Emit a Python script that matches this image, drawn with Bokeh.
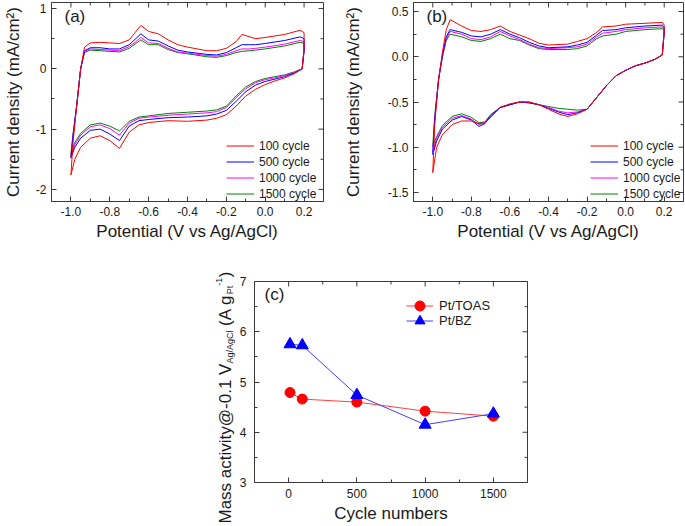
import math
from bokeh.plotting import figure
from bokeh.models import FixedTicker, Label, Legend, LegendItem
from bokeh.layouts import row, column
from bokeh.embed import file_html
from bokeh.resources import INLINE

# ---------------- panel (a) data ----------------
a_up_pot = [-1.0, -0.99, -0.97, -0.95, -0.93, -0.9, -0.85, -0.8, -0.75, -0.7, -0.67, -0.64, -0.6, -0.55,
            -0.5, -0.45, -0.4, -0.3, -0.25, -0.2, -0.15, -0.12, -0.08, -0.05, 0.0, 0.1, 0.18, 0.2]
a_up_100 = [-1.76, -1.25, -0.6, 0.0, 0.36, 0.43, 0.44, 0.43, 0.42, 0.48, 0.60, 0.72, 0.62, 0.58,
            0.48, 0.40, 0.36, 0.30, 0.30, 0.34, 0.45, 0.57, 0.53, 0.50, 0.52, 0.57, 0.64, 0.60]
a_up_500 = [-1.48, -1.15, -0.6, 0.0, 0.30, 0.35, 0.35, 0.33, 0.33, 0.40, 0.49, 0.58, 0.48, 0.46,
            0.38, 0.31, 0.28, 0.24, 0.23, 0.27, 0.35, 0.40, 0.40, 0.40, 0.42, 0.47, 0.53, 0.50]
a_up_1000 = [-1.45, -1.12, -0.6, 0.0, 0.29, 0.33, 0.32, 0.31, 0.30, 0.37, 0.44, 0.52, 0.43, 0.42,
             0.34, 0.28, 0.26, 0.22, 0.21, 0.24, 0.30, 0.33, 0.33, 0.34, 0.36, 0.41, 0.47, 0.45]
a_up_1500 = [-1.42, -1.10, -0.6, 0.0, 0.27, 0.31, 0.30, 0.29, 0.28, 0.34, 0.41, 0.48, 0.40, 0.40,
             0.32, 0.27, 0.25, 0.20, 0.19, 0.22, 0.27, 0.29, 0.30, 0.31, 0.33, 0.38, 0.44, 0.42]

a_dn_pot = [0.2, 0.19, 0.15, 0.1, 0.05, 0.0, -0.05, -0.1, -0.15, -0.2, -0.25, -0.3,
            -0.4, -0.5, -0.6, -0.65, -0.7, -0.75, -0.8, -0.85, -0.9, -0.95, -0.98, -1.0]
a_dn_100 = [0.35, 0.0, -0.08, -0.15, -0.20, -0.26, -0.34, -0.45, -0.62, -0.76, -0.82, -0.85,
            -0.87, -0.86, -0.89, -0.93, -1.05, -1.32, -1.19, -1.11, -1.15, -1.30, -1.50, -1.76]
a_dn_500 = [0.3, 0.0, -0.07, -0.13, -0.17, -0.21, -0.27, -0.38, -0.54, -0.69, -0.75, -0.78,
            -0.80, -0.81, -0.84, -0.86, -0.95, -1.19, -1.08, -1.00, -1.02, -1.15, -1.30, -1.48]
a_dn_1000 = [0.3, 0.0, -0.06, -0.11, -0.15, -0.18, -0.23, -0.33, -0.48, -0.64, -0.71, -0.73,
             -0.75, -0.77, -0.80, -0.82, -0.90, -1.10, -0.99, -0.93, -0.96, -1.10, -1.26, -1.45]
a_dn_1500 = [0.3, 0.0, -0.05, -0.10, -0.13, -0.16, -0.21, -0.30, -0.45, -0.62, -0.68, -0.70,
             -0.72, -0.74, -0.78, -0.80, -0.87, -1.03, -0.95, -0.90, -0.93, -1.07, -1.22, -1.42]

# ---------------- panel (b) data ----------------
b_up_pot = [-1.0, -0.99, -0.97, -0.95, -0.93, -0.91, -0.85, -0.8, -0.75, -0.7, -0.65, -0.6, -0.55,
            -0.5, -0.45, -0.4, -0.3, -0.25, -0.2, -0.15, -0.12, -0.05, 0.0, 0.1, 0.19, 0.2]
b_up_100 = [-1.28, -0.75, -0.25, 0.05, 0.30, 0.41, 0.34, 0.29, 0.28, 0.30, 0.34, 0.28, 0.24,
            0.20, 0.15, 0.13, 0.14, 0.17, 0.20, 0.27, 0.33, 0.34, 0.36, 0.37, 0.38, 0.35]
b_up_500 = [-1.08, -0.70, -0.25, 0.02, 0.22, 0.30, 0.27, 0.23, 0.22, 0.25, 0.30, 0.25, 0.21,
            0.16, 0.12, 0.10, 0.11, 0.13, 0.16, 0.24, 0.29, 0.30, 0.32, 0.34, 0.35, 0.32]
b_up_1000 = [-1.05, -0.68, -0.25, 0.0, 0.20, 0.28, 0.25, 0.20, 0.19, 0.22, 0.28, 0.23, 0.19,
             0.14, 0.10, 0.09, 0.10, 0.11, 0.14, 0.22, 0.26, 0.28, 0.30, 0.32, 0.33, 0.30]
b_up_1500 = [-0.99, -0.65, -0.25, 0.0, 0.18, 0.25, 0.22, 0.18, 0.17, 0.20, 0.25, 0.20, 0.18,
             0.13, 0.09, 0.08, 0.08, 0.09, 0.12, 0.20, 0.23, 0.25, 0.28, 0.30, 0.31, 0.29]

b_dn_pot = [0.2, 0.19, 0.15, 0.1, 0.05, 0.0, -0.05, -0.1, -0.15, -0.2, -0.25, -0.3, -0.35, -0.4,
            -0.45, -0.5, -0.55, -0.6, -0.65, -0.7, -0.73, -0.76, -0.8, -0.85, -0.9, -0.95, -0.98, -1.0]
b_dn_100 = [0.30, 0.02, -0.03, -0.07, -0.10, -0.15, -0.21, -0.32, -0.45, -0.58, -0.63, -0.66, -0.63, -0.58,
            -0.53, -0.50, -0.50, -0.52, -0.56, -0.67, -0.73, -0.74, -0.71, -0.71, -0.75, -0.86, -1.00, -1.28]
b_dn_500 = [0.28, 0.02, -0.03, -0.07, -0.10, -0.15, -0.21, -0.32, -0.45, -0.58, -0.62, -0.64, -0.61, -0.57,
            -0.53, -0.51, -0.50, -0.53, -0.56, -0.65, -0.74, -0.77, -0.70, -0.66, -0.70, -0.80, -0.93, -1.08]
b_dn_1000 = [0.27, 0.02, -0.03, -0.07, -0.10, -0.15, -0.21, -0.32, -0.45, -0.58, -0.61, -0.62, -0.60, -0.56,
             -0.53, -0.51, -0.50, -0.53, -0.56, -0.65, -0.73, -0.75, -0.69, -0.65, -0.68, -0.78, -0.90, -1.05]
b_dn_1500 = [0.26, 0.02, -0.03, -0.07, -0.10, -0.15, -0.21, -0.32, -0.45, -0.58, -0.59, -0.58, -0.57, -0.55,
             -0.53, -0.50, -0.50, -0.53, -0.56, -0.64, -0.72, -0.73, -0.67, -0.63, -0.66, -0.76, -0.88, -0.99]

cycle_labels = ["100 cycle", "500 cycle", "1000 cycle", "1500 cycle"]
cycle_colors = ["#ff0000", "#0000ff", "#ff00ff", "#008000"]

# ---------------- panel (c) data ----------------
c_cycles = [10, 100, 500, 1000, 1500]
c_toas = [4.79, 4.66, 4.60, 4.42, 4.32]
c_bz = [5.75, 5.73, 4.74, 4.15, 4.37]
c_series = ["Pt/TOAS", "Pt/BZ"]

# ---------------- ticks ----------------
cv_xticks = [-1.0, -0.8, -0.6, -0.4, -0.2, 0.0, 0.2]
cv_xlabels = ["-1.0", "-0.8", "-0.6", "-0.4", "-0.2", "0.0", "0.2"]
cv_xminor = [-0.9, -0.7, -0.5, -0.3, -0.1, 0.1]
a_yticks = [-2.0, -1.0, 0.0, 1.0]
a_ylabels = ["-2", "-1", "0", "1"]
a_yminor = [-1.5, -0.5, 0.5]
b_yticks = [-1.5, -1.0, -0.5, 0.0, 0.5]
b_ylabels = ["-1.5", "-1.0", "-0.5", "0.0", "0.5"]
b_yminor = [-1.25, -0.75, -0.25, 0.25]
c_xticks = [0, 500, 1000, 1500]
c_xlabels = ["0", "500", "1000", "1500"]
c_xminor = [250, 750, 1250]
c_yticks = [3, 4, 5, 6, 7]
c_ylabels = ["3", "4", "5", "6", "7"]
c_yminor = [3.5, 4.5, 5.5, 6.5]

FONT = "Liberation Sans"
FRAME = "#3a3a3a"
TXT = "#1a1a1a"


def no_align(p):
    try:
        p.frame_align = False
    except Exception:
        pass


def style(p, xt, xl, xm, yt, yl, ym, xlabel, ylabel, y_lab_standoff):
    p.grid.visible = False
    p.outline_line_color = FRAME
    p.outline_line_width = 1
    for ax, t, l, m in ((p.xaxis, xt, xl, xm), (p.yaxis, yt, yl, ym)):
        ax.ticker = FixedTicker(ticks=t, minor_ticks=m)
        ax.major_label_overrides = {tv: lb for tv, lb in zip(t, l)}
        ax.axis_line_color = FRAME
        ax.major_tick_line_color = FRAME
        ax.minor_tick_line_color = FRAME
        ax.major_tick_in = 5
        ax.major_tick_out = 0
        ax.minor_tick_in = 3
        ax.minor_tick_out = 0
        ax.major_label_text_font = FONT
        ax.major_label_text_font_size = "12px"
        ax.major_label_text_color = TXT
        ax.axis_label_text_font = FONT
        ax.axis_label_text_font_size = "17px"
        ax.axis_label_text_font_style = "normal"
        ax.axis_label_text_color = TXT
    p.xaxis.axis_label = xlabel
    p.xaxis.major_label_standoff = 5
    p.xaxis.axis_label_standoff = 3
    p.yaxis.axis_label = ylabel
    p.yaxis.major_label_standoff = 5
    p.yaxis.axis_label_standoff = y_lab_standoff


def mirror(p, xt, xm, yt, ym, x_end, y_end):
    p.scatter(xt, [y_end] * len(xt), marker="dash", angle=math.pi / 2, size=10, line_color=FRAME)
    p.scatter(xm, [y_end] * len(xm), marker="dash", angle=math.pi / 2, size=6, line_color=FRAME)
    p.scatter([x_end] * len(yt), yt, marker="dash", size=10, line_color=FRAME)
    p.scatter([x_end] * len(ym), ym, marker="dash", size=6, line_color=FRAME)


def cv_panel(width, height, bl, br, bt, bb, yr, up_pot, ups, dn_pot, dns, yt, yl, ym, letter, leg_x, ylab_standoff):
    p = figure(width=width, height=height, x_range=(-1.1, 0.3), y_range=yr,
               min_border_left=bl, min_border_right=br, min_border_top=bt, min_border_bottom=bb,
               output_backend="svg", toolbar_location=None)
    style(p, cv_xticks, cv_xlabels, cv_xminor, yt, yl, ym,
          "Potential (V vs Ag/AgCl)", "Current density (mA/cm\u00b2)", ylab_standoff)
    drawn = {}
    for i in reversed(range(len(ups))):
        drawn[i] = p.line(up_pot + dn_pot, ups[i] + dns[i], line_color=cycle_colors[i], line_width=1)
    items = [LegendItem(label=lab, renderers=[drawn[i]]) for i, lab in enumerate(cycle_labels)]
    leg = Legend(items=items, location=(leg_x, 0), border_line_color=None, background_fill_alpha=0,
                 glyph_width=28, glyph_height=15, label_height=15, spacing=1, padding=0, margin=0,
                 label_standoff=5, label_text_font=FONT, label_text_font_size="12px",
                 label_text_color=TXT)
    p.add_layout(leg)
    mirror(p, cv_xticks, cv_xminor, yt, ym, 0.3, yr[1])
    frame_h = height - bt - bb
    p.add_layout(Label(x=13, y=frame_h - 4, x_units="screen", y_units="screen", text=letter,
                       text_font=FONT, text_font_size="17px", text_color=TXT,
                       text_baseline="top", text_align="left"))
    no_align(p)
    return p


pa = cv_panel(340, 250, 49, 17, 2, 49, (-2.2, 1.1),
              a_up_pot, [a_up_100, a_up_500, a_up_1000, a_up_1500],
              a_dn_pot, [a_dn_100, a_dn_500, a_dn_1000, a_dn_1500],
              a_yticks, a_ylabels, a_yminor, "(a)", 175, 10)
pb = cv_panel(344, 250, 70, 1, 2, 49, (-1.6, 0.6),
              b_up_pot, [b_up_100, b_up_500, b_up_1000, b_up_1500],
              b_dn_pot, [b_dn_100, b_dn_500, b_dn_1000, b_dn_1500],
              b_yticks, b_ylabels, b_yminor, "(b)", 177, 22)

# ---------------- panel (c) ----------------
LW = 236
CW, CH, CBL, CBR, CBT, CBB = 296, 275, 17, 5, 31, 42
pc = figure(width=CW, height=CH, x_range=(-250, 1750), y_range=(3, 7),
            min_border_left=CBL, min_border_right=CBR, min_border_top=CBT, min_border_bottom=CBB,
            output_backend="svg", toolbar_location=None)
style(pc, c_xticks, c_xlabels, c_xminor, c_yticks, c_ylabels, c_yminor, "Cycle numbers", None, 0)
pc.yaxis.major_label_standoff = 8
pc.xaxis.major_label_standoff = 6
pc.xaxis.axis_label_standoff = 3
no_align(pc)

r1l = pc.line(c_cycles, c_toas, line_color="#ff4040", line_width=1)
r1s = pc.scatter(c_cycles, c_toas, marker="circle", size=10, fill_color="#ff0000", line_color="#ff0000")
r2l = pc.line(c_cycles, c_bz, line_color="#4040ff", line_width=1)
r2s = pc.scatter(c_cycles, c_bz, marker="triangle", size=12, fill_color="#0000ff", line_color="#0000ff")
mirror(pc, c_xticks, c_xminor, c_yticks, c_yminor, 1750, 7)

c_frame_h = CH - CBT - CBB
for k, (lab, rends) in enumerate(((c_series[0], [r1l, r1s]), (c_series[1], [r2l, r2s]))):
    lg = Legend(items=[LegendItem(label=lab, renderers=rends)],
                location=(152, c_frame_h - 13 - 25 - 15 * k), border_line_color=None,
                background_fill_alpha=0, glyph_width=27, glyph_height=25, label_height=25,
                spacing=0, padding=0, margin=0, label_standoff=6, label_text_font=FONT,
                label_text_font_size="13px", label_text_color=TXT)
    pc.add_layout(lg)
pc.add_layout(Label(x=10, y=c_frame_h - 4, x_units="screen", y_units="screen", text="(c)",
                    text_font=FONT, text_font_size="17px", text_color=TXT,
                    text_baseline="top", text_align="left"))

# ---------------- rotated y label of (c), with sub/superscripts ----------------
lab_fig = figure(width=LW, height=CH, x_range=(0, 1), y_range=(0, 1),
                 min_border_left=0, min_border_right=0, min_border_top=0, min_border_bottom=0,
                 x_axis_location=None, y_axis_location=None,
                 output_backend="svg", toolbar_location=None)
lab_fig.grid.visible = False
lab_fig.outline_line_color = None
no_align(lab_fig)

ARIAL = {" ": 278, "(": 333, ")": 333, "-": 333, ".": 278, "/": 278, "@": 1015, "0": 556, "1": 556,
         "A": 667, "C": 722, "M": 833, "P": 667, "V": 667, "a": 556, "c": 500, "g": 556, "i": 222,
         "l": 222, "s": 500, "t": 278, "v": 500, "y": 500}


def tw(s, size):
    return sum(ARIAL[ch] for ch in s) * size / 1000.0


# (text, font size, baseline shift, gap before in px)
pieces = [("Mass activity@-0.1 V", 17, 0, 0), ("Ag/AgCl", 9, 4, 0), ("(A g", 17, 0, 4.7),
          ("Pt", 9, 4, 0.5), ("-1", 9, -7, 0), (")", 17, 0, 0.5)]
base_x = 225
pos_y = 2
for txt, fs, dx, gap in pieces:
    pos_y += gap
    lab_fig.add_layout(Label(x=base_x + dx, y=pos_y, x_units="screen", y_units="screen", text=txt,
                             angle=math.pi / 2, text_font=FONT, text_font_size=f"{fs}px",
                             text_color=TXT, text_baseline="alphabetic", text_align="left"))
    pos_y += tw(txt, fs)

layout = column(row(pa, pb), row(lab_fig, pc))

open("out.html", "w").write(file_html(layout, INLINE))
